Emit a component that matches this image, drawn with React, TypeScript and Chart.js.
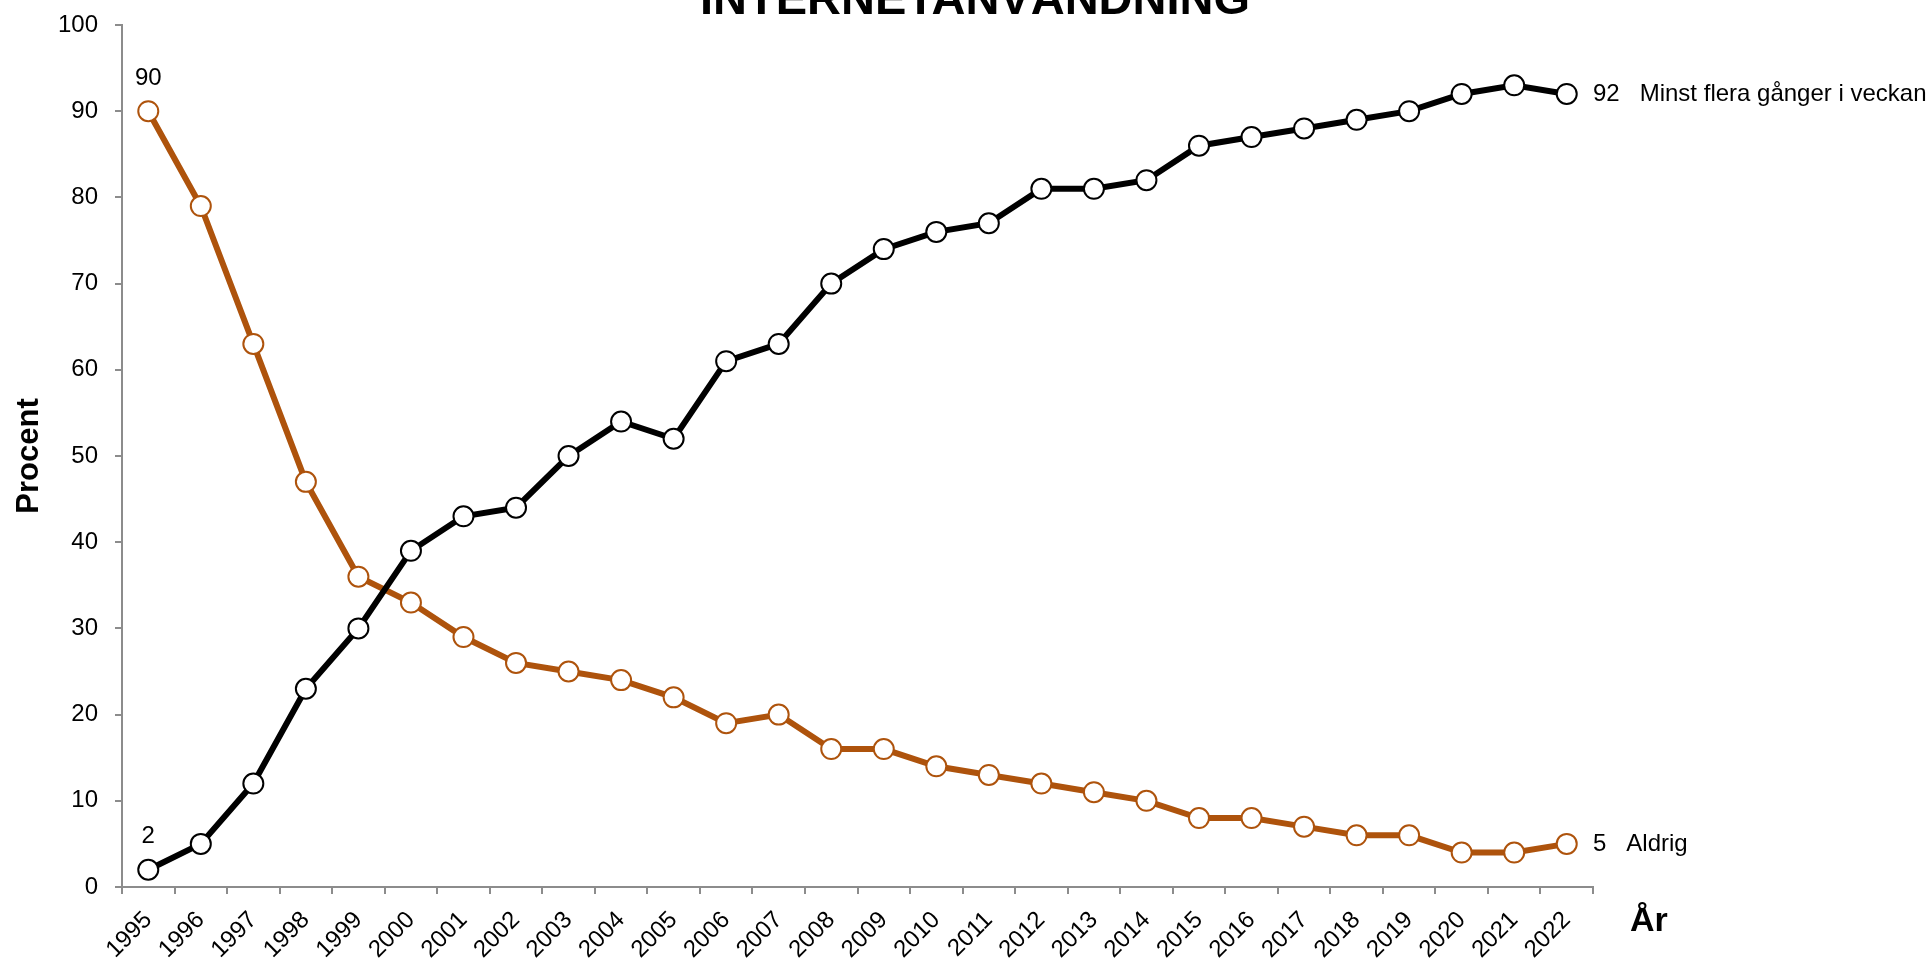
import React, { useEffect, useRef } from "react";
import { Chart, registerables } from "chart.js";

Chart.register(...registerables);

const years = [
  "1995", "1996", "1997", "1998", "1999", "2000", "2001", "2002", "2003", "2004",
  "2005", "2006", "2007", "2008", "2009", "2010", "2011", "2012", "2013", "2014",
  "2015", "2016", "2017", "2018", "2019", "2020", "2021", "2022",
];
const weeklyName = "Minst flera gånger i veckan";
const weekly = [2, 5, 12, 23, 30, 39, 43, 44, 50, 54, 52, 61, 63, 70, 74, 76, 77, 81, 81, 82, 86, 87, 88, 89, 90, 92, 93, 92];
const neverName = "Aldrig";
const never = [90, 79, 63, 47, 36, 33, 29, 26, 25, 24, 22, 19, 20, 16, 16, 14, 13, 12, 11, 10, 8, 8, 7, 6, 6, 4, 4, 5];
const titleText = "INTERNETANVÄNDNING";
const yTitle = "Procent";
const xTitle = "År";

const FONT = "'Liberation Sans', Arial, Helvetica, sans-serif";
const ORANGE = "#AE530C";
const AXIS = "#8c8c8c";

const W = 1930;
const H = 959;

const annotations = {
  id: "annotations",
  afterDraw(chart: any) {
    const ctx = chart.ctx;
    const x = chart.scales.x;
    const y = chart.scales.y;
    const area = chart.chartArea;
    ctx.save();
    ctx.fillStyle = "#000";
    ctx.font = `bold 47px ${FONT}`;
    ctx.textAlign = "center";
    ctx.textBaseline = "alphabetic";
    ctx.fillText(titleText, 975, 14);

    ctx.font = `bold 34px ${FONT}`;
    ctx.textAlign = "left";
    ctx.fillText(xTitle, 1630, 931);

    ctx.font = `24px ${FONT}`;
    ctx.textAlign = "center";
    ctx.textBaseline = "middle";
    const x0 = x.getPixelForValue(0);
    ctx.fillText(String(never[0]), x0, y.getPixelForValue(never[0]) - 33);
    ctx.fillText(String(weekly[0]), x0, y.getPixelForValue(weekly[0]) - 33);

    ctx.textAlign = "left";
    const last = years.length - 1;
    const ends: [number, string][] = [
      [weekly[last], weeklyName],
      [never[last], neverName],
    ];
    for (const [v, name] of ends) {
      const py = y.getPixelForValue(v);
      const vs = String(v);
      ctx.fillText(vs, area.right, py);
      const w = ctx.measureText(vs + "   ").width;
      ctx.fillText(name, area.right + w, py);
    }
    ctx.restore();
  },
};

export default function App() {
  const ref = useRef<HTMLCanvasElement | null>(null);
  useEffect(() => {
    if (!ref.current) return;
    const chart = new Chart(ref.current, {
      type: "line",
      data: {
        labels: years,
        datasets: [
          {
            label: weeklyName,
            data: weekly,
            borderColor: "#000",
            borderWidth: 6,
            pointRadius: 10,
            pointBackgroundColor: "#fff",
            pointBorderColor: "#000",
            pointBorderWidth: 2,
            tension: 0,
          },
          {
            label: neverName,
            data: never,
            borderColor: ORANGE,
            borderWidth: 6,
            pointRadius: 10,
            pointBackgroundColor: "#fff",
            pointBorderColor: ORANGE,
            pointBorderWidth: 2,
            tension: 0,
          },
        ],
      },
      options: {
        responsive: false,
        animation: false,
        devicePixelRatio: 1,
        layout: { padding: { top: 25, right: 337, left: 0, bottom: 0 } },
        plugins: {
          legend: { display: false },
          tooltip: { enabled: false },
          title: { display: false },
        },
        scales: {
          x: {
            type: "category",
            offset: true,
            grid: {
              display: true,
              drawOnChartArea: false,
              drawTicks: true,
              tickLength: 7,
              color: AXIS,
              lineWidth: 2,
              offset: true,
            },
            border: { display: true, color: AXIS, width: 2 },
            ticks: {
              minRotation: 45,
              maxRotation: 45,
              autoSkip: false,
              color: "#000",
              padding: 12,
              font: { size: 24, family: FONT },
            },
            afterFit: (s: any) => {
              s.height = H - 887;
              s.paddingLeft = 0;
              s.paddingRight = 0;
              s.paddingTop = 0;
              s.paddingBottom = 0;
            },
          },
          y: {
            min: 0,
            max: 100,
            grid: {
              display: true,
              drawOnChartArea: false,
              drawTicks: true,
              tickLength: 7,
              color: AXIS,
              lineWidth: 2,
            },
            border: { display: true, color: AXIS, width: 2 },
            ticks: {
              stepSize: 10,
              color: "#000",
              padding: 17,
              font: { size: 24, family: FONT },
            },
            title: {
              display: true,
              text: yTitle,
              color: "#000",
              font: { size: 31, weight: "bold", family: FONT, lineHeight: 1 },
              padding: { top: 14, bottom: 0 },
            },
            afterFit: (s: any) => {
              s.width = 122;
              s.paddingLeft = 0;
              s.paddingRight = 0;
              s.paddingTop = 0;
              s.paddingBottom = 0;
            },
          },
        },
      },
      plugins: [annotations],
    });
    return () => chart.destroy();
  }, []);
  return (
    <div style={{ position: "absolute", left: 0, top: 0, width: W, height: H, background: "#fff" }}>
      <canvas ref={ref} width={W} height={H} style={{ display: "block" }} />
    </div>
  );
}
